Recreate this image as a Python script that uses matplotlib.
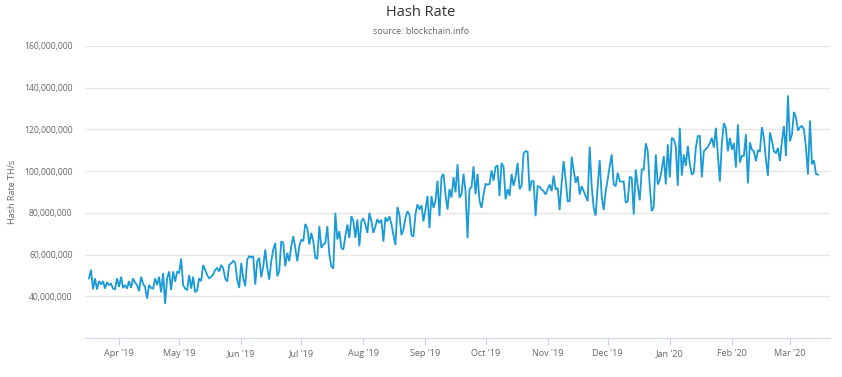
import numpy as np
import pandas as pd
import matplotlib
matplotlib.use("Agg")
import matplotlib.pyplot as plt
import matplotlib.dates as md
from matplotlib.ticker import FuncFormatter

# daily hash rate in millions of TH/s
start_date = "2019-03-17"

spring_2019 = [48.6, 52.7, 43.4, 48.6, 43.3, 47.3, 45.7, 47.3, 43.7, 46.7,
               45.4, 46.0, 43.7, 43.4, 48.6, 44.5, 49.4, 44.0, 45.4, 43.7,
               47.3, 44.0, 48.6, 46.5, 45.4, 42.5, 49.4, 46.0, 44.5, 38.9, 45.4, 44.0,
               43.7, 48.6, 45.4, 49.4, 41.9, 51.1, 36.4, 48.6, 51.9, 43.0,
               51.9, 47.0, 51.9, 51.1, 58.0, 45.4, 43.7, 42.9, 50.2, 43.7,
               49.4, 41.9, 42.9, 48.6, 47.3, 55.0, 52.7, 50.2, 48.6, 49.4,
               50.5, 52.7, 53.5, 51.9, 55.0, 53.5, 48.6, 47.0, 55.0, 55.8,
               57.0, 56.0]

summer_2019 = [48.0, 44.0, 56.0, 48.8, 44.8, 57.6, 59.2, 58.7, 59.2, 45.6,
               56.8, 58.4, 49.1, 54.4, 62.4, 53.6, 48.0, 56.8, 62.4, 65.6,
               49.6, 52.0, 66.4, 65.6, 54.4, 60.8, 56.8, 64.0, 68.8, 63.2,
               56.8, 64.0, 67.2, 66.4, 74.7, 72.8, 64.8, 70.4, 66.4, 58.4,
               58.1, 73.6, 63.2, 64.8, 65.6, 73.6, 60.0, 54.4, 53.3, 80.0,
               67.2, 71.2, 63.2, 62.4, 68.8, 74.4, 68.0, 78.4, 76.0, 68.0,
               76.8, 64.0, 76.0, 77.3, 74.4, 70.4, 80.0, 76.0, 70.4, 73.6,
               77.0]

autumn_2019 = [75.1, 76.7, 66.2, 77.9, 75.9, 78.4, 74.6, 69.4, 64.6, 82.8,
               79.2, 69.4, 71.9, 77.6, 80.8, 79.2, 69.4, 68.6, 79.2, 84.1,
               81.6, 83.7, 75.9, 81.6, 88.1, 72.7, 88.1, 82.4, 85.7, 95.4,
               78.4, 97.1, 98.7, 88.9, 81.6, 91.4, 87.3, 97.1, 89.8, 103.3,
               87.3, 88.9, 98.7, 90.6, 67.8, 91.4, 92.2, 102.3, 88.9, 98.7,
               85.7, 82.4, 88.9, 93.8, 93.5, 93.8, 100.3, 95.4, 102.0, 102.8,
               88.1, 103.9, 102.0, 86.5, 91.4, 88.1, 98.7, 93.0, 97.1, 103.9,
               91.4, 93.0, 108.5]

winter_2019 = [109.6, 109.3, 90.4, 95.2, 95.2, 78.4, 92.8, 92.5, 91.2, 90.4,
               88.8, 91.2, 93.6, 90.4, 97.9, 91.2, 92.0, 81.3, 94.4, 104.8,
               96.0, 85.6, 85.6, 106.9, 100.8, 94.4, 97.6, 88.8, 92.8, 90.4,
               88.0, 85.6, 111.7, 92.8, 82.4, 78.7, 92.8, 105.3, 88.0, 81.3,
               90.4, 96.0, 102.4, 108.0, 93.6, 92.8, 99.2, 95.2, 94.9, 95.0,
               84.8, 85.6, 97.4, 96.8, 79.2, 100.8, 92.8, 86.0, 100.8, 100.8,
               113.3, 109.6, 92.8, 80.8, 82.9, 108.0, 93.6, 96.0, 100.8, 107.2,
               93.6, 112.8]

early_2020 = [97.0, 116.0, 115.2, 112.0, 93.0, 120.8, 97.8, 108.0, 102.5, 112.0,
              103.3, 98.3, 99.4, 111.3, 116.8, 116.8, 97.0, 109.5, 110.6, 111.6,
              113.5, 116.0, 111.3, 120.8, 108.0, 95.0, 113.5, 123.0, 120.8, 109.5,
              115.9, 110.3, 113.5, 101.7, 122.4, 104.1, 107.3, 107.3, 117.6, 94.1,
              113.8, 110.3, 109.5, 104.8, 109.8, 109.5, 121.1, 116.0, 105.7, 97.8,
              118.6, 114.6, 109.5, 108.7, 111.1, 104.8, 114.3, 121.6, 107.3, 136.3,
              114.3, 117.6, 128.4, 125.7, 119.4, 121.1, 121.6, 120.0, 111.3, 98.4,
              124.3, 103.3, 105.2, 98.6, 98.3]

y_ticks = [40e6, 60e6, 80e6, 100e6, 120e6, 140e6, 160e6]

hashrate = np.array(spring_2019 + summer_2019 + autumn_2019 + winter_2019 + early_2020) * 1e6
dates = pd.date_range(start_date, periods=len(hashrate), freq="D")

plt.rcParams['font.family'] = ['Open Sans', 'DejaVu Sans']

fig = plt.figure(figsize=(8.42, 3.77), dpi=100)
ax = fig.add_axes([85/842, 1-338/377, 745/842, 292/377])

ax.plot(dates, hashrate, color="#1a9ad6", lw=1.3, solid_joinstyle="miter")

#axes styling
ax.set_ylim(20e6, 160e6)
ax.set_xlim(dates[0] - pd.Timedelta(days=2), dates[-1] + pd.Timedelta(days=6))
ax.set_yticks(y_ticks)
ax.yaxis.set_major_formatter(FuncFormatter(lambda v, p: f"{int(v):,}"))
ax.grid(axis="y", color="#e6e6e6", lw=1)
ax.set_axisbelow(True)
for s in ["top", "right", "left"]:
    ax.spines[s].set_visible(False)
ax.spines["bottom"].set_color("#ccd6eb")
ax.tick_params(axis="y", length=0, pad=9, labelsize=6.2, labelcolor="#666666")
ax.xaxis.set_major_locator(md.MonthLocator())
ax.xaxis.set_major_formatter(md.DateFormatter("%b '%y"))
ax.tick_params(axis="x", length=5, color="#ccd6eb", pad=3, labelsize=6.5, labelcolor="#666666")
ax.set_ylabel("Hash Rate TH/s", fontsize=6.5, color="#666666")
ax.yaxis.set_label_coords((17 - 85) / 745, 0.5)

fig.text(0.5, 1-12/377, "Hash Rate", ha="center", va="center", fontsize=10.5, color="#333333")
fig.text(0.5, 1-31/377, "source: blockchain.info", ha="center", va="center", fontsize=6.5, color="#666666")

fig.savefig("out.png", dpi=100)
